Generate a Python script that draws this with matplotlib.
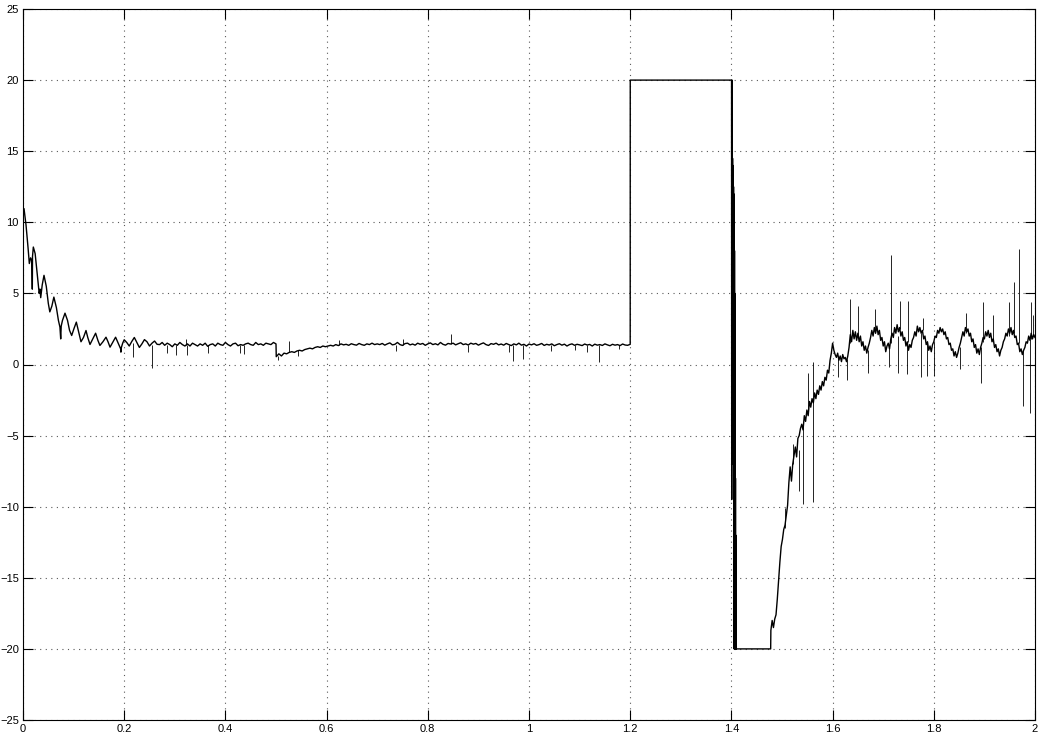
import numpy as np
import matplotlib
matplotlib.use("Agg")
import matplotlib.pyplot as plt

# decaying start, read point by point
t_decay = [0.000, 0.002, 0.006, 0.010, 0.0125, 0.015, 0.0175, 0.0184, 0.0188, 0.0204,
           0.024, 0.028, 0.032, 0.0336, 0.035, 0.038, 0.0415, 0.046, 0.050, 0.053,
           0.057, 0.061, 0.066, 0.070, 0.073, 0.0745, 0.0755, 0.078, 0.083, 0.088,
           0.092, 0.0962, 0.1005, 0.1054, 0.110, 0.1146, 0.1195, 0.1245, 0.128, 0.1324,
           0.138, 0.1435, 0.148, 0.152, 0.158, 0.164, 0.168, 0.172, 0.178, 0.183,
           0.188, 0.193, 0.1935, 0.194, 0.197, 0.200]
y_decay = [10.4, 10.96, 9.8, 8.2, 7.1, 7.5, 7.3, 5.3, 7.6, 8.26,
           7.8, 6.4, 5.0, 5.3, 4.7, 5.6, 6.27, 5.5, 4.3, 3.7,
           4.1, 4.74, 4.0, 3.1, 2.63, 1.8, 2.7, 3.1, 3.61, 3.1,
           2.4, 2.04, 2.5, 2.98, 2.3, 1.6, 1.9, 2.39, 1.9, 1.41,
           1.8, 2.2, 1.7, 1.34, 1.6, 1.92, 1.6, 1.22, 1.6, 1.92,
           1.5, 1.1, 0.87, 1.15, 1.5, 1.74]

# plateau 0.205 .. 0.5
y_flat1 = [1.55, 1.30, 1.62, 1.90, 1.55, 1.20, 1.45, 1.75, 1.60, 1.30,
           1.50, 1.65, 1.42, 1.40, 1.55, 1.35, 1.50, 1.40, 1.25, 1.45,
           1.35, 1.55, 1.40, 1.30, 1.45, 1.30, 1.50, 1.40, 1.30, 1.45,
           1.35, 1.50, 1.28, 1.40, 1.45, 1.30, 1.50, 1.40, 1.35, 1.55,
           1.40, 1.30, 1.45, 1.50, 1.32, 1.40, 1.35, 1.45, 1.50, 1.40,
           1.35, 1.55, 1.40, 1.45, 1.35, 1.50, 1.45, 1.40, 1.55, 1.45]

# dip after 0.5 and recovery up to 0.7
y_step = [0.55, 0.75, 0.60, 0.80, 0.75, 0.85, 0.90, 0.85, 0.95, 1.00,
          0.95, 1.05, 1.10, 1.15, 1.10, 1.20, 1.25, 1.20, 1.30, 1.25,
          1.30, 1.35, 1.30, 1.40, 1.33, 1.45, 1.38, 1.42, 1.35, 1.46,
          1.40, 1.36, 1.48, 1.40, 1.35, 1.45, 1.40, 1.50, 1.40, 1.45]

# plateau 0.705 .. 1.2
y_flat2 = [1.40, 1.48, 1.36, 1.45, 1.52, 1.38, 1.42, 1.55, 1.40, 1.34,
           1.47, 1.50, 1.38, 1.44, 1.36, 1.50, 1.42, 1.48, 1.35, 1.45,
           1.52, 1.40, 1.46, 1.38, 1.55, 1.42, 1.36, 1.48, 1.44, 1.50,
           1.38, 1.46, 1.53, 1.40, 1.45, 1.37, 1.50, 1.43, 1.48, 1.36,
           1.45, 1.52, 1.40, 1.34, 1.47, 1.42, 1.50, 1.38, 1.44, 1.36,
           1.48, 1.40, 1.33, 1.45, 1.38, 1.50, 1.36, 1.42, 1.30, 1.44,
           1.38, 1.46, 1.35, 1.40, 1.48, 1.34, 1.42, 1.37, 1.45, 1.32,
           1.40, 1.46, 1.36, 1.43, 1.30, 1.40, 1.45, 1.35, 1.42, 1.38,
           1.33, 1.44, 1.37, 1.41, 1.30, 1.43, 1.36, 1.40, 1.34, 1.45,
           1.38, 1.32, 1.42, 1.36, 1.40, 1.33, 1.44, 1.37, 1.35, 1.42]

# saturated at +20, then chattering down to -20
t_high = [1.2001, 1.4003]
y_high = [20.0, 20.0]
y_chatter = [-9.5, 19.5, -3.0, 20.0, -6.5, 15.0, -7.0, 14.5, -2.5, 14.0,
             -5.5, 13.5, -6.8, 13.0, -4.0, 12.5, -7.0, 12.0, -6.0, 11.0,
             -20.0, 10.0, -20.0, 8.0, -20.0, 5.0, -20.0, 2.0, -20.0, -2.0,
             -20.0, -8.0, -20.0, -12.0, -20.0, -17.0, -20.0, -19.0, -20.0, -20.0]
t_low = [1.4776]
y_low = [-20.0]

# recovery ramp 1.478 .. 1.5975
y_rise = [-18.7, -18.0, -18.5, -17.9, -17.6, -16.5, -15.2, -13.9, -12.8, -12.3,
          -11.6, -11.3, -10.6, -9.9, -8.3, -7.2, -8.2, -7.0, -6.4, -5.8,
          -6.5, -5.2, -5.0, -4.5, -4.2, -4.6, -3.6, -4.0, -3.2, -3.6,
          -2.6, -3.0, -2.4, -2.7, -2.0, -2.4, -1.8, -2.1, -1.5, -1.8,
          -1.2, -1.5, -0.9, -1.1, -0.4, -0.6, 0.3, 0.8]

# noisy tail 1.6 .. 2.0
y_tail = [1.5, 1.0, 0.7, 0.5, 0.8, 0.3, 0.6, 0.2, 0.7, 0.4,
          0.5, 0.2, 0.6, 1.2, 2.1, 1.6, 2.4, 1.8, 2.3, 1.7,
          2.2, 1.6, 2.0, 1.3, 1.6, 1.0, 1.3, 0.8, 1.2, 1.5,
          1.9, 2.4, 2.0, 2.6, 2.2, 2.7, 2.1, 2.4, 1.7, 1.9,
          1.3, 1.6, 0.9, 1.3, 1.5, 1.1, 1.8, 2.2, 1.9, 2.6,
          2.2, 2.8, 2.3, 2.6, 2.0, 2.3, 1.7, 1.9, 1.3, 1.6,
          1.0, 1.4, 1.2, 1.7, 1.9, 2.3, 2.0, 2.7, 2.3, 2.6,
          2.2, 2.4, 1.8, 2.0, 1.4, 1.6, 1.0, 1.3, 0.9, 1.4,
          1.6, 2.0, 1.9, 2.4, 2.2, 2.6, 2.3, 2.5, 2.1, 2.3,
          1.8, 1.9, 1.4, 1.5, 1.0, 1.1, 0.6, 0.9, 0.5, 0.8,
          1.2, 1.5, 1.9, 2.3, 2.0, 2.6, 2.3, 2.5, 2.0, 2.2,
          1.6, 1.8, 1.2, 1.4, 0.8, 1.1, 0.7, 1.2, 1.5, 1.9,
          1.8, 2.3, 2.0, 2.4, 1.9, 2.2, 1.6, 1.8, 1.2, 1.4,
          0.9, 1.1, 0.6, 1.0, 1.2, 1.6, 1.8, 2.2, 2.0, 2.5,
          2.2, 2.6, 2.1, 2.4, 1.9, 2.0, 1.4, 1.5, 0.9, 1.1,
          0.7, 1.0, 1.2, 1.6, 1.5, 2.0, 1.7, 2.2, 1.8, 2.1,
          1.9]

# single-sample spikes: time, level before, tip
spike_t = [0.2168, 0.254, 0.285, 0.302, 0.323, 0.325, 0.366, 0.429, 0.437, 0.5046,
           0.526, 0.543, 0.624, 0.737, 0.751, 0.846, 0.880, 0.960, 0.968, 0.9875,
           1.044, 1.090, 1.115, 1.138, 1.178,
           1.506, 1.522, 1.533, 1.542, 1.552, 1.561, 1.562,
           1.610, 1.628, 1.634, 1.651, 1.669, 1.6845, 1.712, 1.7155, 1.730, 1.734,
           1.748, 1.7485, 1.775, 1.778, 1.786, 1.801, 1.851, 1.864, 1.894, 1.898,
           1.917, 1.949, 1.958, 1.968, 1.976, 1.991, 1.9915, 1.996]
spike_base = [1.5, 1.4, 1.4, 1.4, 1.4, 1.4, 1.4, 1.4, 1.4, 0.6,
              0.85, 1.0, 1.35, 1.4, 1.4, 1.45, 1.4, 1.4, 1.4, 1.4,
              1.4, 1.4, 1.4, 1.4, 1.4,
              -11.5, -7.0, -6.0, -4.3, -3.4, -2.4, -2.4,
              0.5, 0.4, 1.5, 2.0, 1.0, 2.2, 1.3, 1.5, 2.0, 2.5,
              1.6, 1.6, 2.2, 2.4, 1.6, 1.6, 1.2, 2.2, 1.2, 1.6,
              1.8, 2.0, 2.2, 1.5, 1.0, 1.8, 1.8, 2.0]
spike_tip = [0.52, -0.28, 0.78, 0.66, 1.8, 0.66, 0.78, 0.78, 0.75, 0.33,
             1.64, 0.6, 1.75, 0.94, 1.8, 2.18, 0.87, 0.9, 0.28, 0.4,
             0.92, 1.0, 0.87, 0.21, 1.1,
             -10.1, -5.6, -8.9, -9.8, -0.6, -9.7, 0.2,
             -0.9, -1.1, 4.6, 4.1, -0.6, 3.9, -0.2, 7.7, -0.6, 4.5,
             -0.7, 4.5, -0.9, 3.3, -0.8, -0.8, -0.3, 3.6, -1.3, 4.4,
             3.5, 4.4, 5.8, 8.1, -2.9, -3.4, 4.4, 3.5]

x_ticks = [0, 0.2, 0.4, 0.6, 0.8, 1.0, 1.2, 1.4, 1.6, 1.8, 2.0]
x_labels = ['0', '0.2', '0.4', '0.6', '0.8', '1', '1.2', '1.4', '1.6', '1.8', '2']
y_ticks = [-25, -20, -15, -10, -5, 0, 5, 10, 15, 20, 25]

t = np.concatenate([t_decay,
                    np.linspace(0.205, 0.5, len(y_flat1)),
                    np.linspace(0.5005, 0.70, len(y_step)),
                    np.linspace(0.705, 1.2, len(y_flat2)),
                    t_high,
                    np.linspace(1.4006, 1.4100, len(y_chatter)),
                    t_low,
                    np.linspace(1.478, 1.5975, len(y_rise)),
                    np.linspace(1.6, 2.0, len(y_tail))])
y = np.concatenate([y_decay, y_flat1, y_step, y_flat2, y_high,
                    y_chatter, y_low, y_rise, y_tail])

plt.rcParams['font.family'] = ['Liberation Sans', 'DejaVu Sans']
fig = plt.figure(figsize=(10.38, 7.36), dpi=100)
ax = fig.add_axes([23 / 1038, 16 / 736, 1012 / 1038, 711 / 736])

ax.plot(t, y, color='black', lw=1.0)
ax.vlines(spike_t, spike_base, spike_tip, color='black', lw=0.6)

ax.set_xlim(0, 2)
ax.set_ylim(-25, 25)
ax.set_xticks(x_ticks)
ax.set_xticklabels(x_labels)
ax.set_yticks(y_ticks)
ax.grid(True, color='0.35', linestyle=(0, (1, 4)), lw=0.8)
ax.tick_params(direction='in', length=7, width=0.8, top=True, right=True,
               labelsize=8, pad=3)
for s in ax.spines.values():
    s.set_linewidth(0.8)

plt.savefig('out.png', dpi=100)
